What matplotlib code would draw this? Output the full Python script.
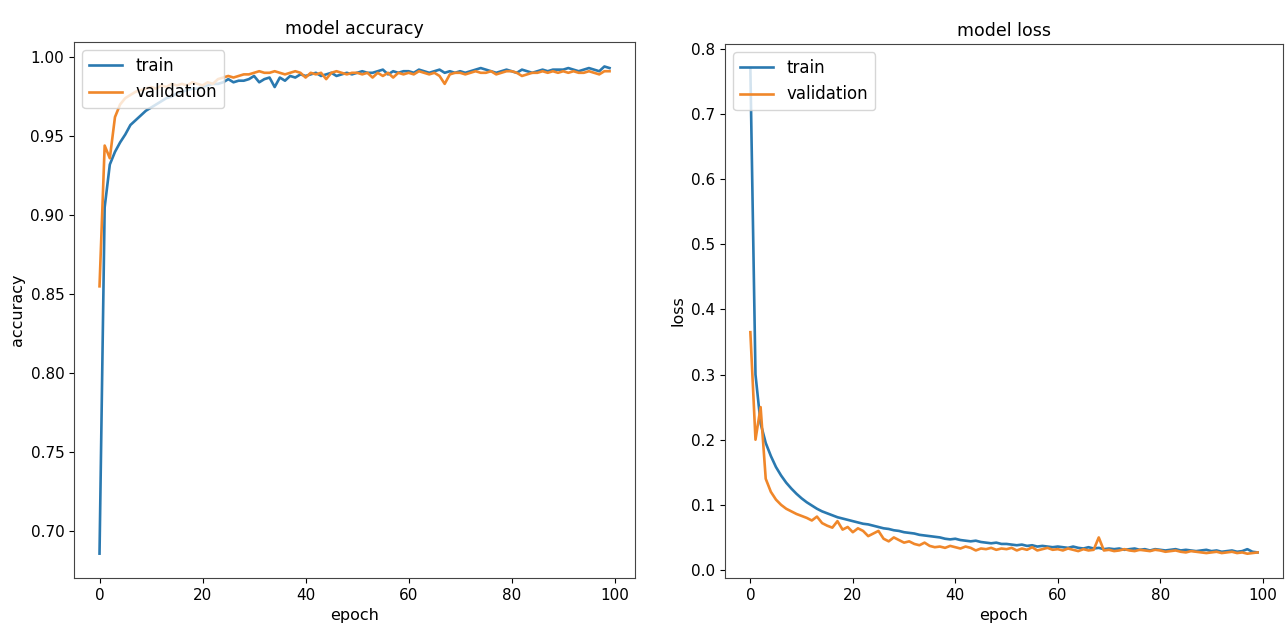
import numpy as np
import matplotlib
matplotlib.use('Agg')
import matplotlib.pyplot as plt

# historial de entrenamiento
acc_train = [0.686, 0.905, 0.932, 0.940, 0.946, 0.951, 0.957, 0.960, 0.963, 0.966,
             0.968, 0.970, 0.972, 0.974, 0.975, 0.977, 0.978, 0.979, 0.980, 0.980,
             0.981, 0.982, 0.983, 0.983, 0.984, 0.986, 0.984, 0.985, 0.985, 0.986,
             0.988, 0.984, 0.986, 0.987, 0.981, 0.987, 0.985, 0.988, 0.987, 0.989,
             0.988, 0.989, 0.990, 0.988, 0.989, 0.990, 0.988, 0.989, 0.990, 0.989,
             0.990, 0.991, 0.990, 0.990, 0.991, 0.992, 0.989, 0.991, 0.990, 0.991,
             0.991, 0.990, 0.992, 0.991, 0.990, 0.991, 0.992, 0.990, 0.991, 0.990,
             0.991, 0.990, 0.991, 0.992, 0.993, 0.992, 0.991, 0.990, 0.991, 0.992,
             0.991, 0.990, 0.992, 0.991, 0.990, 0.991, 0.992, 0.991, 0.992, 0.992,
             0.992, 0.993, 0.992, 0.991, 0.992, 0.993, 0.992, 0.991, 0.994, 0.993]
acc_val = [0.855, 0.944, 0.936, 0.962, 0.970, 0.974, 0.976, 0.978, 0.979, 0.980,
           0.981, 0.980, 0.982, 0.981, 0.983, 0.982, 0.983, 0.982, 0.984, 0.983,
           0.982, 0.984, 0.983, 0.986, 0.987, 0.988, 0.987, 0.988, 0.989, 0.989,
           0.990, 0.991, 0.990, 0.990, 0.991, 0.990, 0.989, 0.990, 0.991, 0.990,
           0.987, 0.990, 0.989, 0.990, 0.986, 0.990, 0.991, 0.990, 0.989, 0.990,
           0.990, 0.989, 0.990, 0.987, 0.990, 0.988, 0.990, 0.987, 0.990, 0.989,
           0.990, 0.989, 0.991, 0.990, 0.989, 0.990, 0.988, 0.983, 0.989, 0.990,
           0.990, 0.989, 0.990, 0.991, 0.990, 0.990, 0.991, 0.989, 0.990, 0.991,
           0.991, 0.990, 0.988, 0.989, 0.990, 0.990, 0.991, 0.990, 0.991, 0.990,
           0.991, 0.990, 0.991, 0.990, 0.990, 0.991, 0.990, 0.989, 0.991, 0.991]
loss_train = [0.770, 0.300, 0.225, 0.195, 0.175, 0.158, 0.145, 0.134, 0.125, 0.117,
              0.110, 0.104, 0.099, 0.094, 0.090, 0.087, 0.084, 0.081, 0.079, 0.077,
              0.075, 0.073, 0.071, 0.070, 0.068, 0.066, 0.064, 0.063, 0.061, 0.060,
              0.058, 0.057, 0.056, 0.054, 0.053, 0.052, 0.051, 0.050, 0.048, 0.047,
              0.048, 0.046, 0.045, 0.044, 0.045, 0.043, 0.042, 0.041, 0.042, 0.040,
              0.040, 0.039, 0.038, 0.039, 0.037, 0.038, 0.036, 0.037, 0.036, 0.035,
              0.036, 0.035, 0.034, 0.036, 0.034, 0.033, 0.035, 0.033, 0.034, 0.032,
              0.033, 0.032, 0.033, 0.031, 0.032, 0.033, 0.031, 0.032, 0.030, 0.032,
              0.031, 0.030, 0.031, 0.032, 0.030, 0.031, 0.030, 0.029, 0.030, 0.031,
              0.029, 0.030, 0.028, 0.029, 0.030, 0.028, 0.029, 0.032, 0.028, 0.027]
loss_val = [0.365, 0.200, 0.250, 0.140, 0.120, 0.108, 0.100, 0.094, 0.090, 0.086,
            0.083, 0.080, 0.076, 0.082, 0.072, 0.068, 0.065, 0.075, 0.062, 0.066,
            0.058, 0.064, 0.060, 0.052, 0.056, 0.060, 0.048, 0.044, 0.050, 0.046,
            0.042, 0.044, 0.040, 0.038, 0.042, 0.037, 0.035, 0.036, 0.034, 0.037,
            0.035, 0.033, 0.036, 0.034, 0.030, 0.033, 0.032, 0.034, 0.031, 0.033,
            0.032, 0.034, 0.030, 0.033, 0.031, 0.035, 0.030, 0.032, 0.034, 0.031,
            0.032, 0.030, 0.033, 0.031, 0.029, 0.032, 0.030, 0.031, 0.050, 0.030,
            0.031, 0.029, 0.030, 0.032, 0.030, 0.029, 0.031, 0.030, 0.029, 0.031,
            0.030, 0.028, 0.029, 0.030, 0.028, 0.027, 0.029, 0.028, 0.027, 0.026,
            0.027, 0.028, 0.026, 0.027, 0.028, 0.026, 0.027, 0.025, 0.026, 0.027]
legend_labels = ['train', 'validation']

epochs = np.arange(len(acc_train))

fig = plt.figure(figsize=(12.85, 6.41), dpi=100)
ax1 = fig.add_axes([0.0576, 0.0983, 0.4366, 0.836])
ax2 = fig.add_axes([0.5642, 0.0983, 0.4342, 0.833])

for ax, tr, va, name in [(ax1, acc_train, acc_val, 'accuracy'),
                         (ax2, loss_train, loss_val, 'loss')]:
    ax.plot(epochs, tr, color='#2a79b0', linewidth=1.9)
    ax.plot(epochs, va, color='#f0872a', linewidth=1.9)
    ax.set_title('model ' + name, fontsize=12.5)
    ax.set_ylabel(name, fontsize=11.5)
    ax.set_xlabel('epoch', fontsize=11.5)
    ax.tick_params(labelsize=11)
    ax.legend(legend_labels, loc='upper left', fontsize=12)
    for s in ax.spines.values():
        s.set_color('#444444')

fig.savefig('out.png', dpi=100)
